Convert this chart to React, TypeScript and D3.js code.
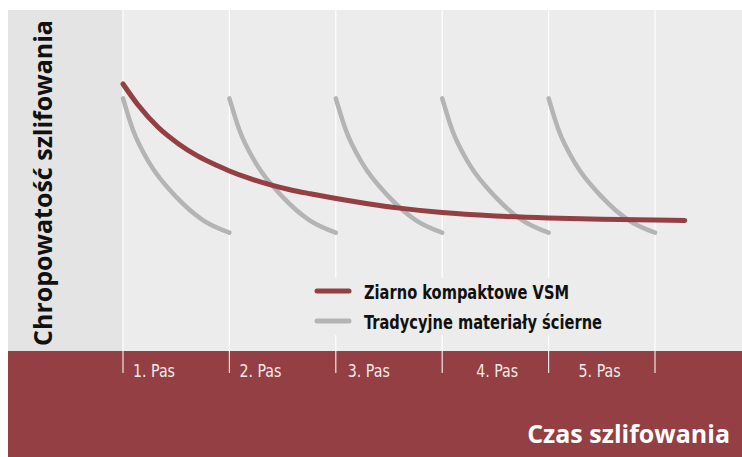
import React, { useEffect, useRef } from "react";
import * as d3 from "d3";

// passes along the time axis
const passLabels = ["1. Pas", "2. Pas", "3. Pas", "4. Pas", "5. Pas"];

// compact grain (VSM): [time in passes, roughness]
const vsmT = [0, 0.14, 0.33, 0.52, 0.7, 0.89, 1.0, 1.19, 1.38, 1.57, 1.76, 1.95, 2.3, 2.6, 3.0, 3.5, 4.0, 4.5, 5.0, 5.28];
const vsmR = [78.3, 72.2, 65.6, 60.8, 57.2, 54.3, 52.8, 50.6, 48.8, 47.3, 46.1, 45.0, 43.2, 41.9, 40.6, 39.6, 39.0, 38.6, 38.4, 38.3];

// traditional abrasive, one pass profile (repeats every pass)
const tradT = [0, 0.094, 0.25, 0.5, 0.75, 1.0];
const tradR = [74.1, 64.8, 55.0, 45.2, 38.4, 34.7];

const seriesNames = ["Ziarno kompaktowe VSM", "Tradycyjne materiały ścierne"];
const yTitle = "Chropowatość szlifowania";
const xTitle = "Czas szlifowania";

const RED = "#933f43";
const GRAY = "#b4b4b4";
const BG = "#ebeceb";
const BAND = "#e3e4e3";
const COND = "'Liberation Sans Narrow', 'DejaVu Sans Condensed', 'Roboto', sans-serif";

const App = () => {
  const ref = useRef<SVGSVGElement>(null);

  useEffect(() => {
    const svg = d3.select(ref.current);
    svg.selectAll("*").remove();

    const width = 742;
    const height = 457;
    const top = 10, left = 8, split = 351;

    const x = d3.scaleLinear().domain([0, 5]).range([123, 655]);
    const y = d3.scaleLinear().domain([0, 100]).range([split, top]);

    // backgrounds
    svg.append("rect").attr("x", left).attr("y", top)
      .attr("width", width - left).attr("height", split - top).attr("fill", BG);
    svg.append("rect").attr("x", left).attr("y", top)
      .attr("width", x(0) - left).attr("height", split - top).attr("fill", BAND);
    svg.append("rect").attr("x", left).attr("y", split)
      .attr("width", width - left).attr("height", height - split).attr("fill", RED);

    // pass grid lines
    const ticks = d3.range(0, 6);
    svg.selectAll("line.grid").data(ticks).enter().append("line")
      .attr("x1", d => x(d)).attr("x2", d => x(d))
      .attr("y1", top).attr("y2", split)
      .attr("stroke", "#fff").attr("stroke-width", 1.2);
    svg.selectAll("line.tick").data(ticks).enter().append("line")
      .attr("x1", d => x(d)).attr("x2", d => x(d))
      .attr("y1", split).attr("y2", 373)
      .attr("stroke", "#f2e6e6").attr("stroke-width", 1.2);

    const labelNudge = [10, 10, 12, 34, 30];
    svg.selectAll("text.pas").data(passLabels).enter().append("text")
      .attr("x", (d, i) => x(i) + labelNudge[i]).attr("y", 377)
      .attr("font-family", COND).attr("font-size", 17)
      .attr("textLength", 42).attr("lengthAdjust", "spacingAndGlyphs")
      .attr("fill", "#f4eaea").text(d => d);

    const line = d3.line<[number, number]>()
      .x(d => x(d[0])).y(d => y(d[1]))
      .curve(d3.curveMonotoneX);

    // traditional curves, one per pass
    passLabels.forEach((_, p) => {
      svg.append("path")
        .attr("d", line(tradT.map((t, i) => [t + p, tradR[i]])))
        .attr("fill", "none").attr("stroke", GRAY)
        .attr("stroke-width", 4.5).attr("stroke-linecap", "round");
    });

    // VSM curve
    svg.append("path")
      .attr("d", line(vsmT.map((t, i) => [t, vsmR[i]])))
      .attr("fill", "none").attr("stroke", RED)
      .attr("stroke-width", 5).attr("stroke-linecap", "round");

    // legend
    svg.append("rect").attr("x", 305).attr("y", 278)
      .attr("width", 305).attr("height", 57).attr("fill", BG);
    const lg = svg.append("g");
    const legendW = [205, 238];
    [RED, GRAY].forEach((c, i) => {
      lg.append("line")
        .attr("x1", 317).attr("x2", 349)
        .attr("y1", 291 + i * 30).attr("y2", 291 + i * 30)
        .attr("stroke", c).attr("stroke-width", 5).attr("stroke-linecap", "round");
      lg.append("text")
        .attr("x", 364).attr("y", 299 + i * 30)
        .attr("font-family", COND).attr("font-size", 20).attr("font-weight", "bold")
        .attr("textLength", legendW[i]).attr("lengthAdjust", "spacingAndGlyphs")
        .attr("fill", "#111").text(seriesNames[i]);
    });

    // axis titles
    svg.append("text")
      .attr("x", 730).attr("y", 443).attr("text-anchor", "end")
      .attr("font-family", "'Open Sans', sans-serif").attr("font-size", 25)
      .attr("font-weight", "bold").attr("fill", "#fff").text(xTitle);

    svg.append("text")
      .attr("transform", "translate(52,183) rotate(-90)")
      .attr("text-anchor", "middle")
      .attr("font-family", "'Open Sans', sans-serif").attr("font-size", 25)
      .attr("font-weight", "bold").attr("fill", "#111").text(yTitle);

    svg.attr("width", width).attr("height", height);
  }, []);

  return <svg ref={ref} style={{ position: "absolute", left: 0, top: 0 }}></svg>;
};

export default App;
